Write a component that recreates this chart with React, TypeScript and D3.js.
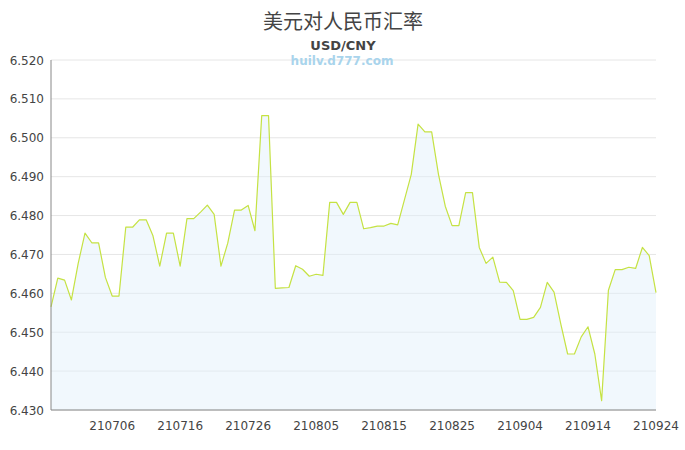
import React, { useEffect } from 'react';
import * as d3 from 'd3';

// daily USD/CNY rates, 2021-06-27 .. 2021-09-24
const startDay = '2021-06-27';
const endDay = '2021-09-24';

const rates = [
  6.4565, 6.4639, 6.4634, 6.4583, 6.4677, 6.4755, 6.4730, 6.4730, 6.4641, 6.4593,
  6.4593, 6.4770, 6.4770, 6.4789, 6.4789, 6.4748, 6.4670, 6.4755, 6.4755, 6.4670,
  6.4792, 6.4792, 6.4809, 6.4827, 6.4803, 6.4670, 6.4729, 6.4814, 6.4814, 6.4826,
  6.4761, 6.5057, 6.5057, 6.4613, 6.4614, 6.4615, 6.4671, 6.4662, 6.4644, 6.4649,
  6.4646, 6.4834, 6.4834, 6.4803, 6.4834, 6.4834, 6.4766, 6.4769, 6.4773, 6.4773,
  6.4780, 6.4776, 6.4841, 6.4906, 6.5035, 6.5015, 6.5015, 6.4906, 6.4824, 6.4774,
  6.4774, 6.4859, 6.4859, 6.4718, 6.4677, 6.4693, 6.4629, 6.4628, 6.4607, 6.4533,
  6.4533, 6.4538, 6.4564, 6.4628, 6.4603, 6.4521, 6.4444, 6.4444, 6.4488, 6.4514,
  6.4444, 6.4324, 6.4608, 6.4661, 6.4661, 6.4667, 6.4664, 6.4718, 6.4697, 6.4602,
];

const xTickLabels = ['210706', '210716', '210726', '210805', '210815', '210825', '210904', '210914', '210924'];
const yTickValues = [6.43, 6.44, 6.45, 6.46, 6.47, 6.48, 6.49, 6.5, 6.51, 6.52];

type Pt = { date: Date; value: number };

export default function App() {
  useEffect(() => {
    document.body.style.margin = '0';
  }, []);

  const width = 685;
  const height = 450;
  const left = 51;
  const right = 656;
  const top = 60;
  const bottom = 410;

  const parseDay = d3.timeParse('%Y-%m-%d');
  const parseTick = d3.timeParse('%y%m%d');
  const days = d3.timeDay.range(parseDay(startDay)!, d3.timeDay.offset(parseDay(endDay)!, 1));
  const data: Pt[] = days.map((d, i) => ({ date: d, value: rates[i] }));

  const x = d3.scaleTime().domain([days[0], days[days.length - 1]]).range([left, right]);
  const y = d3.scaleLinear().domain([6.43, 6.52]).range([bottom, top]);

  const line = d3.line<Pt>().x(d => x(d.date)).y(d => y(d.value));
  const area = d3.area<Pt>().x(d => x(d.date)).y0(bottom).y1(d => y(d.value));

  const font = '"DejaVu Sans", sans-serif';

  return (
    <svg width={width} height={height} style={{ display: 'block', background: '#fff' }}>
      <text x={343} y={29} textAnchor="middle" fontFamily='"Noto Sans CJK SC", sans-serif' fontSize={20} fill="#444">
        美元对人民币汇率
      </text>
      <text x={343} y={50} textAnchor="middle" fontFamily={font} fontSize={13} fontWeight="bold" fill="#444">
        USD/CNY
      </text>

      {yTickValues.map(v => (
        <g key={v}>
          <line x1={left} x2={right} y1={y(v)} y2={y(v)} stroke="#e6e6e6" strokeWidth={1} />
          <text x={44} y={y(v) + 4.5} textAnchor="end" fontFamily={font} fontSize={12} fill="#444">
            {d3.format('.3f')(v)}
          </text>
        </g>
      ))}

      <text x={342} y={65} textAnchor="middle" fontFamily={font} fontSize={12} fontWeight="bold" fill="#a9d4ec">
        huilv.d777.com
      </text>

      <path d={area(data) ?? ''} fill="#e0f0fb" fillOpacity={0.45} />
      <path d={line(data) ?? ''} fill="none" stroke="#c5e243" strokeWidth={1.2} strokeLinejoin="round" />

      <line x1={left} x2={left} y1={top} y2={bottom} stroke="#888" strokeWidth={1} />
      <line x1={left} x2={right} y1={bottom} y2={bottom} stroke="#888" strokeWidth={1} />

      {xTickLabels.map(t => (
        <text key={t} x={x(parseTick(t)!)} y={430} textAnchor="middle" fontFamily={font} fontSize={12} fill="#444">
          {t}
        </text>
      ))}
    </svg>
  );
}
